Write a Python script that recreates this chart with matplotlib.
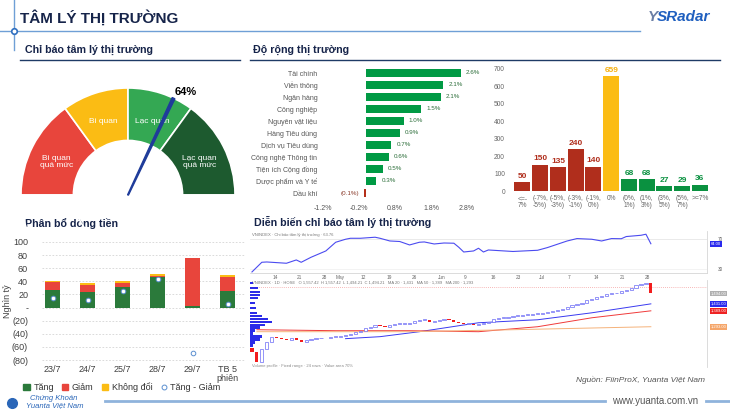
import numpy as np
import matplotlib
matplotlib.use('Agg')
import matplotlib.pyplot as plt
import matplotlib.transforms as mtransforms
from matplotlib.lines import Line2D
from matplotlib.patches import Patch

plt.rcParams['font.family'] = ['Liberation Sans', 'DejaVu Sans']

W, H = 730, 411
NAVY = '#16244a'

# gauge: sentiment zones (%) and current reading
gauge_bounds = [0, 30, 50, 70, 100]
gauge_labels = ['Bi quan\nquá mức', 'Bi quan', 'Lạc quan', 'Lạc quan\nquá mức']
gauge_colors = ['#E8453C', '#FBBC14', '#34A853', '#1D5A2F']
gauge_value = 64

# market breadth by sector (% change)
sectors = ['Tài chính', 'Viễn thông', 'Ngân hàng', 'Công nghiệp', 'Nguyên vật liệu',
           'Hàng Tiêu dùng', 'Dịch vụ Tiêu dùng', 'Công nghệ Thông tin',
           'Tiện ích Cộng đồng', 'Dược phẩm và Y tế', 'Dầu khí']
sector_chg = [2.62, 2.14, 2.08, 1.53, 1.04, 0.94, 0.70, 0.63, 0.47, 0.28, -0.06]

# number of stocks per price change bucket
breadth_bins = ['<=-\n7%', '(-7%,\n-5%)', '(-5%,\n-3%)', '(-3%,\n-1%)', '(-1%,\n0%)', '0%',
                '(0%,\n1%)', '(1%,\n3%)', '(3%,\n5%)', '(5%,\n7%)', '>=7%']
breadth_counts = [50, 150, 135, 240, 140, 659, 68, 68, 27, 29, 36]

# money flow (nghìn tỷ)
flow_days = ['23/7', '24/7', '25/7', '28/7', '29/7', 'TB 5\nphiên']
flow_up = [27, 23, 31, 46, 2, 26]
flow_down = [12, 11, 6, 2, 73, 20]
flow_flat = [1, 4, 3, 3, 1, 3]
flow_net = [15, 12, 25, 44, -70, 5]

# sentiment indicator history (trading day index, value)
sent_day = [0, 2, 3, 7, 9, 10, 12, 15, 17, 19, 20, 22, 25, 26, 28, 30, 32, 34, 35, 37, 39,
            41, 42, 43, 45, 46, 47, 48, 53, 58, 60, 64, 66, 69, 71, 73, 75, 76, 79, 80, 81]
sent_val = [26.4, 39.3, 39.7, 38.0, 42.4, 39.3, 46.0, 54.4, 66.0, 70.0, 71.3, 71.3, 72.7,
            71.3, 67.7, 67.0, 62.4, 66.0, 66.4, 63.7, 65.0, 64.7, 59.3, 53.0, 54.4, 58.0,
            53.0, 55.7, 53.7, 55.3, 58.9, 67.7, 70.9, 70.0, 67.7, 70.9, 70.7, 73.6, 75.3,
            76.7, 64.0]
date_ticks = [4.7, 9.7, 14.8, 17.8, 22.5, 27.8, 32.9, 38.5, 43.2, 48.9, 54.0, 58.8, 64.3,
              70.0, 75.3, 80.3]
date_labels = ['14', '21', '28', 'May', '12', '19', '26', 'Jun', '9', '16', '23', 'Jul',
               '7', '14', '21', '28']

# VN-Index daily closes
first_open = 1167
closes = [1143, 1083, 1160, 1203, 1230, 1227, 1221, 1212, 1225, 1215, 1203, 1213, 1221,
          1224, 1227, 1225, 1233, 1233, 1239, 1245, 1251, 1263, 1269, 1287, 1293, 1305,
          1299, 1293, 1305, 1311, 1311, 1311, 1317, 1329, 1335, 1335, 1323, 1329, 1335,
          1341, 1335, 1323, 1317, 1311, 1311, 1305, 1311, 1317, 1323, 1341, 1347, 1347,
          1353, 1359, 1359, 1365, 1365, 1371, 1371, 1377, 1383, 1389, 1395, 1401, 1413,
          1425, 1431, 1437, 1455, 1461, 1473, 1479, 1491, 1497, 1497, 1509, 1515, 1527,
          1545, 1551, 1557, 1494]
ma_blue_day = [19, 26, 34, 40, 46, 58, 69, 81]
ma_blue = [1221, 1233, 1263, 1290, 1317, 1335, 1377, 1431]
ma_red_day = [1, 17, 32, 46, 58, 69, 81]
ma_red = [1275, 1269, 1269, 1263, 1293, 1347, 1389]
ma_orange_day = [1, 32, 53, 81]
ma_orange = [1263, 1263, 1275, 1293]
resist_level = 1535
vp_price = [1557, 1527, 1503, 1485, 1467, 1437, 1407, 1377, 1359, 1341, 1323, 1305, 1287,
            1269, 1251, 1233, 1215, 1197, 1179]
vp_size = [3, 8, 10, 10, 8, 5, 6, 7, 12, 18, 22, 15, 10, 5, 3, 12, 10, 5, 3]

fig = plt.figure(figsize=(W / 100, H / 100), dpi=100)


def px_axes(x0, y0, x1, y1):
    return fig.add_axes([x0 / W, 1 - y1 / H, (x1 - x0) / W, (y1 - y0) / H])


# background layer for frame lines and titles
bg = fig.add_axes([0, 0, 1, 1], zorder=-5)
bg.set_xlim(0, W)
bg.set_ylim(H, 0)
bg.axis('off')
bg.plot([14, 14], [0, 50], color='#6f9fd6', lw=1)
bg.plot([0, 640], [31, 31], color='#6f9fd6', lw=1)
bg.plot([14], [31], marker='o', ms=4, mfc='white', mec='#2f6fc0', mew=1.2)
bg.text(20, 18, 'TÂM LÝ THỊ TRƯỜNG', fontsize=11, fontweight='bold', color=NAVY, va='center')
bg.text(648, 17, 'Y', fontsize=11, fontweight='bold', style='italic', color='#6b7fa6', va='center')
bg.text(657, 17, 'SRadar', fontsize=11, fontweight='bold', style='italic', color='#1f5fbf', va='center')
for x, txt, y in [(25, 'Chỉ báo tâm lý thị trường', 50), (253, 'Độ rộng thị trường', 50),
                  (25, 'Phân bổ dòng tiền', 223), (254, 'Diễn biến chỉ báo tâm lý thị trường', 222)]:
    bg.text(x, y, txt, fontsize=7.7, fontweight='bold', color=NAVY, va='center')
bg.plot([20, 240], [60, 60], color='#1f3b66', lw=1)
bg.plot([250, 720], [60, 60], color='#1f3b66', lw=1)
bg.text(705, 380, 'Nguồn: FiinProX, Yuanta Việt Nam', fontsize=6, style='italic',
        color='#555555', ha='right', va='center')
bg.plot([105, 605], [401, 401], color='#8fb3dc', lw=2)
bg.plot([706, 730], [401, 401], color='#8fb3dc', lw=2)
bg.text(655, 401, 'www.yuanta.com.vn', fontsize=7, color='#555555', ha='center', va='center')
bg.plot([12], [403], marker='o', ms=7, color='#2a66b8')
bg.text(30, 398, 'Chứng Khoán', fontsize=5.5, style='italic', color='#2a66b8', va='center')
bg.text(26, 406, 'Yuanta Việt Nam', fontsize=5.5, style='italic', color='#2a66b8', va='center')

# ---- gauge
ax_g = px_axes(21, 88, 235, 195)
sizes = list(np.diff(gauge_bounds))
ax_g.pie(sizes + [sum(sizes)], colors=gauge_colors + ['none'], startangle=180,
         counterclock=False, radius=1,
         wedgeprops=dict(width=0.49, edgecolor='white', linewidth=1.2))
ax_g.set_xlim(-1, 1)
ax_g.set_ylim(0, 1)
ax_g.axis('off')
for lo, hi, lab in zip(gauge_bounds[:-1], gauge_bounds[1:], gauge_labels):
    mid = np.pi * (1 - (lo + hi) / 200)
    ax_g.text(0.75 * np.cos(mid), 0.75 * np.sin(mid) - 0.03, lab, color='white', fontsize=6,
              ha='center', va='center', linespacing=1.1)
a = np.pi * (1 - gauge_value / 100)
d = np.array([np.cos(a), np.sin(a)])
p = np.array([-np.sin(a), np.cos(a)])
needle = np.array([p * 0.004, d + p * 0.014, d - p * 0.014, -p * 0.004])
ax_g.fill(needle[:, 0], needle[:, 1], color='#1F3C9A', zorder=5, clip_on=False)
ax_g.text(d[0] + 0.11, d[1] + 0.06, f'{gauge_value}%', fontsize=8, fontweight='bold',
          ha='center', va='center', clip_on=False)

# ---- sector breadth
ax_s = px_axes(323, 67, 467, 199)
ypos = np.arange(len(sectors))
ax_s.barh(ypos, sector_chg, height=0.62,
          color=['#009A44' if v >= 0 else '#B5301A' for v in sector_chg])
ax_s.set_xlim(-1.2, 2.8)
ax_s.set_ylim(len(sectors) - 0.5, -0.5)
ax_s.set_yticks(ypos)
ax_s.set_yticklabels(sectors)
xt = [-1.2, -0.2, 0.8, 1.8, 2.8]
ax_s.set_xticks(xt)
ax_s.set_xticklabels([f'{t:.1f}%' for t in xt])
ax_s.tick_params(length=0, labelsize=5, colors='#555555')
ax_s.tick_params(axis='y', pad=4)
ax_s.tick_params(axis='x', pad=4)
for s in ax_s.spines.values():
    s.set_visible(False)
for y, v in zip(ypos, sector_chg):
    if v >= 0:
        ax_s.text(v + 0.14, y, f'{v:.1f}%', fontsize=4.5, color='#2c6e3a', va='center')
    else:
        ax_s.text(v - 0.12, y, f'({abs(v):.1f}%)', fontsize=4.5, color='#8a3a2a',
                  va='center', ha='right')

# ---- breadth histogram
ax_h = px_axes(512, 66, 712, 191)
hx = np.arange(len(breadth_counts))
hcol = ['#B02E1C'] * 5 + ['#FBBC14'] + ['#0A9140'] * 5
tcol = ['#B02E1C'] * 5 + ['#F5B010'] + ['#0A9140'] * 5
ax_h.bar(hx, breadth_counts, width=0.9, color=hcol)
for x, c, tc in zip(hx, breadth_counts, tcol):
    ax_h.text(x, c + 14, str(c), ha='center', va='bottom', fontsize=6, fontweight='bold', color=tc)
ax_h.set_xlim(-0.59, 10.68)
ax_h.set_ylim(0, 717)
ax_h.set_yticks(range(0, 701, 100))
ax_h.set_xticks(hx)
ax_h.set_xticklabels(breadth_bins, linespacing=0.95)
ax_h.tick_params(length=0, labelsize=4.8, colors='#666666')
ax_h.tick_params(axis='y', pad=5)
ax_h.tick_params(axis='x', pad=3)
for s in ax_h.spines.values():
    s.set_visible(False)

# ---- money flow
ax_f = px_axes(42, 240, 245, 362)
fx = np.arange(len(flow_days))
up = np.array(flow_up)
down = np.array(flow_down)
ax_f.bar(fx, up, width=0.43, color='#2B7A3B', zorder=3)
ax_f.bar(fx, down, bottom=up, width=0.43, color='#E8453C', zorder=3)
ax_f.bar(fx, flow_flat, bottom=up + down, width=0.43, color='#FBBC14', zorder=3)
ax_f.scatter(fx, flow_net, s=11, facecolor='white', edgecolor='#5b8fd0', linewidth=0.7, zorder=4)
ax_f.set_xlim(-0.3, 5.5)
ax_f.set_ylim(-83, 103)
yt = list(range(-80, 101, 20))
ax_f.set_yticks(yt)
ax_f.set_yticklabels(['-' if t == 0 else (f'({-t})' if t < 0 else str(t)) for t in yt])
ax_f.set_xticks(fx)
ax_f.set_xticklabels(flow_days, linespacing=1.0)
ax_f.grid(axis='y', color='#d4d4d4', ls=(0, (2, 2)), lw=0.6, zorder=0)
ax_f.tick_params(length=0, labelsize=6.5, colors='#404040')
ax_f.tick_params(axis='y', pad=10)
ax_f.tick_params(axis='x', pad=2)
ax_f.set_ylabel('Nghìn tỷ', fontsize=6.5, color='#404040', labelpad=0)
for s in ax_f.spines.values():
    s.set_visible(False)
handles = [Patch(color='#2B7A3B'), Patch(color='#E8453C'), Patch(color='#FBBC14'),
           Line2D([], [], ls='none', marker='o', ms=3.5, mfc='white', mec='#5b8fd0', mew=0.7)]
fig.legend(handles, ['Tăng', 'Giảm', 'Không đổi', 'Tăng - Giảm'], loc='center',
           bbox_to_anchor=(122 / W, 1 - 387 / H), ncol=4, frameon=False, fontsize=6.5,
           handlelength=0.7, handleheight=0.7, handletextpad=0.4, columnspacing=0.9,
           labelcolor='#333333')

# ---- sentiment history (top panel)
ax_t = px_axes(250, 231, 707, 273)
ax_t.plot(sent_day, sent_val, color='#4b4bf0', lw=0.8)
ax_t.axhline(70, color='#e2e2e2', lw=0.5, zorder=0)
ax_t.axhline(30, color='#eeeeee', lw=0.5, zorder=0)
ax_t.set_xlim(-0.4, 92.4)
ax_t.set_ylim(25, 81)
ax_t.yaxis.tick_right()
ax_t.set_yticks([30, 70])
ax_t.set_xticks(date_ticks)
ax_t.set_xticklabels(date_labels)
ax_t.tick_params(length=0, labelsize=3.4, colors='#666666')
ax_t.tick_params(axis='x', pad=1.5)
ax_t.tick_params(axis='y', pad=8)
for k, s in ax_t.spines.items():
    s.set_visible(k in ('bottom', 'right'))
    s.set_color('#d6d6d6')
    s.set_linewidth(0.6)
ax_t.text(0.005, 0.9, 'VNINDEX · Chỉ báo tâm lý thị trường · 63.76', transform=ax_t.transAxes,
          fontsize=3, color='#777777', va='center')
tt = mtransforms.blended_transform_factory(ax_t.transAxes, ax_t.transData)
ax_t.text(1.008, sent_val[-1], f'{sent_val[-1]:.2f}', transform=tt, fontsize=3, color='white',
          va='center', bbox=dict(boxstyle='square,pad=0.2', fc='#2a2aee', ec='none'))

# ---- VN-Index candles (bottom panel)
ax_b = px_axes(250, 280, 707, 367)
opens = [first_open] + closes[:-1]
cx = np.arange(len(closes))
for x, o, c in zip(cx, opens, closes):
    if c >= o:
        ax_b.bar(x, max(c - o, 2), bottom=o, width=0.65, facecolor='white',
                 edgecolor='#6a6af5', linewidth=0.5, zorder=3)
    else:
        ax_b.bar(x, c - o, bottom=o, width=0.65, color='#f21d1d', zorder=3)
ax_b.plot(ma_blue_day, ma_blue, color='#3a3af0', lw=0.7, zorder=2)
ax_b.plot(ma_red_day, ma_red, color='#f03a3a', lw=0.7, zorder=2)
ax_b.plot(ma_orange_day, ma_orange, color='#f5b27a', lw=0.7, zorder=2)
ax_b.axhline(resist_level, color='#f4a0a0', ls=(0, (1, 1.5)), lw=0.6, zorder=1)
ax_b.set_xlim(-0.4, 92.4)
ax_b.set_ylim(1050, 1575)
ax_b.set_xticks([])
ax_b.set_yticks([])
for k, s in ax_b.spines.items():
    s.set_visible(k == 'right')
    s.set_color('#d6d6d6')
    s.set_linewidth(0.6)
ax_b.text(0.005, 0.97, 'VNINDEX · 1D · HOSE   O 1,557.42  H 1,557.42  L 1,494.21  C 1,494.21   '
          'MA 20 · 1,431   MA 50 · 1,389   MA 200 · 1,293', transform=ax_b.transAxes,
          fontsize=3, color='#777777', va='center')
ax_b.text(0.005, 0.01, 'Volume profile · Fixed range · 24 rows · Value area 70%', transform=ax_b.transAxes,
          fontsize=3, color='#888888', va='center')
tb = mtransforms.blended_transform_factory(ax_b.transAxes, ax_b.transData)
for val, fc in [(closes[-1], '#b0b0b0'), (ma_blue[-1], '#2a2aee'), (ma_red[-1], '#ee2222'),
                (ma_orange[-1], '#f5a66a')]:
    ax_b.text(1.008, val, f'{val:,.2f}', transform=tb, fontsize=3, color='white', va='center',
              bbox=dict(boxstyle='square,pad=0.2', fc=fc, ec='none'))

ax_vp = px_axes(250, 280, 280, 367)
ax_vp.barh(vp_price, vp_size, height=15, color='#1414e6', alpha=0.9)
ax_vp.set_xlim(0, 30)
ax_vp.set_ylim(1050, 1575)
ax_vp.axis('off')

fig.savefig('out.png', dpi=100)
